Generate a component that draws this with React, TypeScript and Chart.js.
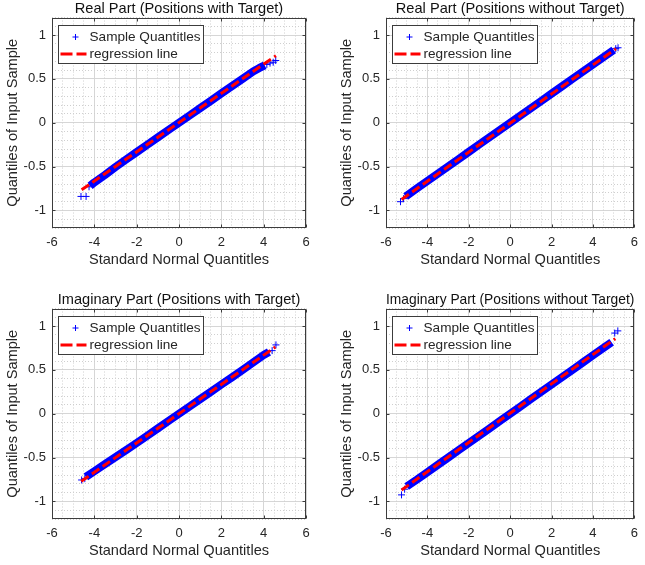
import React, { useEffect, useRef } from "react";
import { Chart, registerables } from "chart.js";

Chart.register(...registerables);

const FONT = "'Liberation Sans', Arial, Helvetica, sans-serif";
const TEXT_COLOR = "#262626";
const BOX_COLOR = "#3c3c3c";
const BLUE = "#0000ff";
const RED = "#ff0000";

// ---- axes ----
const X_MIN = -6;
const X_MAX = 6;
const Y_MIN = -1.2;
const Y_MAX = 1.2;
const X_TICKS = [-6, -4, -2, 0, 2, 4, 6];
const X_TICK_LABELS = ["-6", "-4", "-2", "0", "2", "4", "6"];
const Y_TICKS = [-1, -0.5, 0, 0.5, 1];
const Y_TICK_LABELS = ["-1", "-0.5", "0", "0.5", "1"];
const X_MINOR_STEP = 0.5;
const Y_MINOR_STEP = 0.1;

const X_LABEL = "Standard Normal Quantitles";
const Y_LABEL = "Quantiles of Input Sample";
const SAMPLE_LABEL = "Sample Quantitles";
const REG_LABEL = "regression line";

const TITLES = [
  "Real Part (Positions with Target)",
  "Real Part (Positions without Target)",
  "Imaginary Part (Positions with Target)",
  "Imaginary Part (Positions without Target)",
];

// ---- panel 1: Real Part (with target) ----
const P1_BAND_X = [-4.2, -4.0, -3.5, -3.0, -2.5, -2.0, -1.5, -1.0, -0.5, 0, 0.5, 1.0, 1.5, 2.0, 2.5, 3.0, 3.5, 3.8, 4.05];
const P1_BAND_Y = [-0.72, -0.68, -0.595, -0.505, -0.42, -0.335, -0.25, -0.167, -0.083, 0, 0.083, 0.167, 0.25, 0.335, 0.418, 0.5, 0.585, 0.625, 0.655];
const P1_TAIL_X = [-4.63, -4.39, -4.25, 4.15, 4.3, 4.45, 4.57];
const P1_TAIL_Y = [-0.84, -0.84, -0.73, 0.665, 0.68, 0.69, 0.71];
const P1_REG_X = [-4.6, 4.58];
const P1_REG_Y = [-0.765, 0.765];

// ---- panel 2: Real Part (without target) ----
const P2_BAND_X = [-5.05, -4.5, -4.0, -3.5, -3.0, -2.5, -2.0, -1.5, -1.0, -0.5, 0, 0.5, 1.0, 1.5, 2.0, 2.5, 3.0, 3.5, 4.0, 4.5, 5.0];
const P2_BAND_Y = [-0.84, -0.747, -0.664, -0.581, -0.498, -0.415, -0.332, -0.249, -0.166, -0.083, 0, 0.083, 0.166, 0.249, 0.332, 0.415, 0.498, 0.581, 0.664, 0.747, 0.83];
const P2_TAIL_X = [-5.3, -5.15, 5.1, 5.21];
const P2_TAIL_Y = [-0.9, -0.865, 0.845, 0.855];
const P2_REG_X = [-5.25, 5.11];
const P2_REG_Y = [-0.874, 0.844];

// ---- panel 3: Imaginary Part (with target) ----
const P3_BAND_X = [-4.4, -4.0, -3.5, -3.0, -2.5, -2.0, -1.5, -1.0, -0.5, 0, 0.5, 1.0, 1.5, 2.0, 2.5, 3.0, 3.5, 4.0, 4.25];
const P3_BAND_Y = [-0.72, -0.655, -0.575, -0.495, -0.415, -0.333, -0.25, -0.167, -0.083, 0, 0.083, 0.167, 0.25, 0.333, 0.415, 0.5, 0.585, 0.67, 0.705];
const P3_TAIL_X = [-4.6, -4.45, 4.4, 4.58];
const P3_TAIL_Y = [-0.755, -0.74, 0.72, 0.785];
const P3_REG_X = [-4.62, 4.55];
const P3_REG_Y = [-0.77, 0.76];

// ---- panel 4: Imaginary Part (without target) ----
const P4_BAND_X = [-5.0, -4.5, -4.0, -3.5, -3.0, -2.5, -2.0, -1.5, -1.0, -0.5, 0, 0.5, 1.0, 1.5, 2.0, 2.5, 3.0, 3.5, 4.0, 4.5, 4.9];
const P4_BAND_Y = [-0.83, -0.75, -0.666, -0.583, -0.5, -0.416, -0.333, -0.25, -0.167, -0.083, 0, 0.083, 0.167, 0.25, 0.333, 0.416, 0.5, 0.583, 0.666, 0.75, 0.816];
const P4_TAIL_X = [-5.25, -5.1, 5.05, 5.2];
const P4_TAIL_Y = [-0.925, -0.86, 0.92, 0.945];
const P4_REG_X = [-5.25, 5.08];
const P4_REG_Y = [-0.87, 0.856];

const toXY = (xs: number[], ys: number[]) => xs.map((x, i) => ({ x, y: ys[i] }));

function minorValues(min: number, max: number, step: number, majors: number[]) {
  const out: number[] = [];
  const n = Math.round((max - min) / step);
  for (let i = 0; i <= n; i++) {
    const v = Math.round((min + i * step) * 1000) / 1000;
    if (!majors.some((m) => Math.abs(m - v) < 1e-6)) out.push(v);
  }
  return out;
}

const framePlugin = {
  id: "qqFrame",
  afterDraw(chart: any) {
    const { ctx, chartArea: a, scales } = chart;
    const xs = scales.x;
    const ys = scales.y;
    ctx.save();
    ctx.strokeStyle = BOX_COLOR;
    ctx.lineWidth = 1;
    const L = Math.round(a.left) + 0.5;
    const T = Math.round(a.top) + 0.5;
    const R = Math.round(a.right) - 0.5;
    const B = Math.round(a.bottom) - 0.5;
    ctx.strokeRect(L, T, R - L, B - T);
    ctx.beginPath();
    X_TICKS.forEach((v) => {
      const px = Math.round(xs.getPixelForValue(v)) + 0.5;
      ctx.moveTo(px, B);
      ctx.lineTo(px, B - 3);
      ctx.moveTo(px, T);
      ctx.lineTo(px, T + 3);
    });
    Y_TICKS.forEach((v) => {
      const py = Math.round(ys.getPixelForValue(v)) + 0.5;
      ctx.moveTo(L, py);
      ctx.lineTo(L + 3, py);
      ctx.moveTo(R, py);
      ctx.lineTo(R - 3, py);
    });
    ctx.stroke();

    // legend
    const lx = L + 6;
    const ly = T + 7;
    const lw = 145;
    const lh = 38;
    ctx.fillStyle = "#ffffff";
    ctx.fillRect(lx, ly, lw, lh);
    ctx.strokeStyle = "#3c3c3c";
    ctx.lineWidth = 1;
    ctx.strokeRect(lx, ly, lw, lh);
    const r1 = ly + 11.5;
    const r2 = ly + 28.5;
    ctx.strokeStyle = BLUE;
    ctx.lineWidth = 1;
    ctx.beginPath();
    ctx.moveTo(lx + 14, r1);
    ctx.lineTo(lx + 20, r1);
    ctx.moveTo(lx + 17, r1 - 3);
    ctx.lineTo(lx + 17, r1 + 3);
    ctx.stroke();
    ctx.strokeStyle = RED;
    ctx.lineWidth = 3;
    ctx.setLineDash([12, 4]);
    ctx.beginPath();
    ctx.moveTo(lx + 2, r2);
    ctx.lineTo(lx + 28, r2);
    ctx.stroke();
    ctx.setLineDash([]);
    const ds = chart.data.datasets;
    ctx.fillStyle = TEXT_COLOR;
    ctx.font = `13.6px ${FONT}`;
    ctx.textBaseline = "middle";
    ctx.textAlign = "left";
    ctx.fillText(ds[0].label, lx + 31, r1);
    ctx.fillText(ds[2].label, lx + 31, r2);
    ctx.restore();
  },
};

type PanelProps = {
  left: number;
  top: number;
  width: number;
  height: number;
  chartLeft: number;
  chartRight: number;
  chartBottom: number;
  title: string;
  bandX: number[];
  bandY: number[];
  tailX: number[];
  tailY: number[];
  regX: number[];
  regY: number[];
};

function Panel(p: PanelProps) {
  const ref = useRef<HTMLCanvasElement | null>(null);
  useEffect(() => {
    if (!ref.current) return;
    const xMinor = minorValues(X_MIN, X_MAX, X_MINOR_STEP, X_TICKS);
    const yMinor = minorValues(Y_MIN, Y_MAX, Y_MINOR_STEP, Y_TICKS);
    const chart = new Chart(ref.current, {
      type: "scatter",
      data: {
        datasets: [
          {
            label: SAMPLE_LABEL,
            data: toXY(p.bandX, p.bandY),
            xAxisID: "x",
            yAxisID: "y",
            showLine: true,
            borderColor: BLUE,
            backgroundColor: BLUE,
            borderWidth: 8,
            borderCapStyle: "butt",
            borderJoinStyle: "round",
            pointRadius: 0,
            order: 2,
          },
          {
            label: "",
            data: toXY(p.tailX, p.tailY),
            xAxisID: "x",
            yAxisID: "y",
            showLine: false,
            pointStyle: "cross",
            pointRadius: 3.5,
            borderColor: BLUE,
            backgroundColor: BLUE,
            borderWidth: 1,
            order: 1,
          },
          {
            label: REG_LABEL,
            data: toXY(p.regX, p.regY),
            xAxisID: "x",
            yAxisID: "y",
            showLine: true,
            borderColor: RED,
            backgroundColor: RED,
            borderWidth: 3,
            borderDash: [9, 4],
            pointRadius: 0,
            order: 0,
          },
        ],
      },
      options: {
        animation: false,
        responsive: false,
        maintainAspectRatio: false,
        events: [],
        layout: { padding: { left: 0, right: p.width - p.chartRight, top: 0, bottom: 0 } },
        plugins: {
          legend: { display: false },
          tooltip: { enabled: false },
          title: {
            display: true,
            text: p.title,
            fullSize: false,
            color: "#111111",
            font: { family: FONT, size: 14.6, weight: "normal", lineHeight: 1.2 },
            padding: { top: 0, bottom: 0 },
          },
        },
        scales: {
          x: {
            type: "linear",
            position: "bottom",
            min: X_MIN,
            max: X_MAX,
            z: -1,
            afterBuildTicks: (s: any) => {
              s.ticks = X_TICKS.map((v) => ({ value: v }));
            },
            afterFit: (s: any) => {
              s.height = p.height - p.chartBottom;
            },
            ticks: {
              color: TEXT_COLOR,
              font: { family: FONT, size: 13 },
              padding: 7,
              maxRotation: 0,
              callback: (v: any) => X_TICK_LABELS[X_TICKS.indexOf(Number(v))],
            },
            border: { display: false },
            grid: { color: "#d6d6d6", lineWidth: 1, drawTicks: false },
            title: {
              display: true,
              text: X_LABEL,
              color: TEXT_COLOR,
              font: { family: FONT, size: 14.6, lineHeight: 1.2 },
              padding: { top: 0, bottom: 5 },
            },
          },
          y: {
            type: "linear",
            position: "left",
            min: Y_MIN,
            max: Y_MAX,
            z: -1,
            afterBuildTicks: (s: any) => {
              s.ticks = Y_TICKS.map((v) => ({ value: v }));
            },
            afterFit: (s: any) => {
              s.width = p.chartLeft;
            },
            ticks: {
              color: TEXT_COLOR,
              font: { family: FONT, size: 13 },
              padding: 6,
              callback: (v: any) => Y_TICK_LABELS[Y_TICKS.indexOf(Number(v))],
            },
            border: { display: false },
            grid: { color: "#d6d6d6", lineWidth: 1, drawTicks: false },
            title: {
              display: true,
              text: Y_LABEL,
              color: TEXT_COLOR,
              font: { family: FONT, size: 14.6, lineHeight: 1.2 },
              padding: { top: 4, bottom: 0 },
            },
          },
          xm: {
            type: "linear",
            axis: "x",
            position: "bottom",
            min: X_MIN,
            max: X_MAX,
            z: -2,
            afterBuildTicks: (s: any) => {
              s.ticks = xMinor.map((v) => ({ value: v }));
            },
            afterFit: (s: any) => {
              s.height = 0;
            },
            ticks: { display: false },
            border: { display: false, dash: [1, 2] },
            grid: { color: "#cfcfcf", lineWidth: 1, drawTicks: false },
          },
          ym: {
            type: "linear",
            axis: "y",
            position: "left",
            min: Y_MIN,
            max: Y_MAX,
            z: -2,
            afterBuildTicks: (s: any) => {
              s.ticks = yMinor.map((v) => ({ value: v }));
            },
            afterFit: (s: any) => {
              s.width = 0;
            },
            ticks: { display: false },
            border: { display: false, dash: [1, 2] },
            grid: { color: "#cfcfcf", lineWidth: 1, drawTicks: false },
          },
        },
      } as any,
      plugins: [framePlugin],
    });
    return () => chart.destroy();
  }, []);
  return (
    <canvas
      ref={ref}
      width={p.width}
      height={p.height}
      style={{ position: "absolute", left: p.left, top: p.top, width: p.width, height: p.height }}
    />
  );
}

export default function App() {
  const H = 274;
  return (
    <div
      style={{
        position: "absolute",
        left: 0,
        top: 0,
        width: 645,
        height: 565,
        background: "#ffffff",
        overflow: "hidden",
      }}
    >
      <Panel left={0} top={0} width={322} height={H} chartLeft={52} chartRight={306} chartBottom={228}
        title={TITLES[0]} bandX={P1_BAND_X} bandY={P1_BAND_Y} tailX={P1_TAIL_X} tailY={P1_TAIL_Y} regX={P1_REG_X} regY={P1_REG_Y} />
      <Panel left={334} top={0} width={311} height={H} chartLeft={52} chartRight={307} chartBottom={228}
        title={TITLES[1]} bandX={P2_BAND_X} bandY={P2_BAND_Y} tailX={P2_TAIL_X} tailY={P2_TAIL_Y} regX={P2_REG_X} regY={P2_REG_Y} />
      <Panel left={0} top={291} width={322} height={H} chartLeft={52} chartRight={306} chartBottom={228}
        title={TITLES[2]} bandX={P3_BAND_X} bandY={P3_BAND_Y} tailX={P3_TAIL_X} tailY={P3_TAIL_Y} regX={P3_REG_X} regY={P3_REG_Y} />
      <Panel left={334} top={291} width={311} height={H} chartLeft={52} chartRight={307} chartBottom={228}
        title={TITLES[3]} bandX={P4_BAND_X} bandY={P4_BAND_Y} tailX={P4_TAIL_X} tailY={P4_TAIL_Y} regX={P4_REG_X} regY={P4_REG_Y} />
    </div>
  );
}
